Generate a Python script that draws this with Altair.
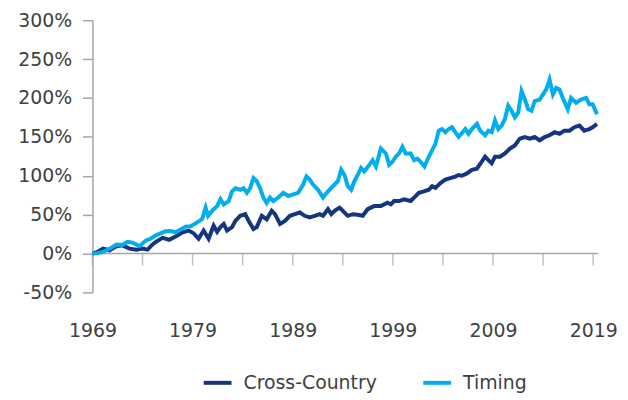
import altair as alt
import pandas as pd

series_names = ["Cross-Country", "Timing"]
series_colors = ["#15357f", "#00aeef"]

timing_years = [1969.0, 1969.5, 1970.05, 1970.7, 1971.4, 1972.0, 1972.5, 1973.0, 1973.7, 1974.35,
                1974.8, 1975.3, 1975.8, 1976.3, 1976.8, 1977.3, 1977.8, 1978.3, 1978.8, 1979.3,
                1979.96, 1980.3, 1980.55, 1980.95, 1981.12, 1981.45, 1981.78, 1982.11, 1982.61, 1982.94,
                1983.27, 1983.76, 1984.09, 1984.42, 1984.75, 1985.08, 1985.41, 1985.74, 1986.07, 1986.4,
                1986.73, 1987.07, 1987.56, 1988.06, 1988.55, 1989.05, 1989.54, 1990.04, 1990.37, 1990.7,
                1991.03, 1991.53, 1992.02, 1992.52, 1993.01, 1993.51, 1993.84, 1994.17, 1994.5, 1994.83,
                1995.16, 1995.49, 1995.82, 1996.15, 1996.65, 1996.98, 1997.31, 1997.8, 1998.3, 1998.63,
                1998.96, 1999.29, 1999.62, 1999.95, 2000.28, 2000.78, 2001.11, 2001.44, 2001.77, 2002.16,
                2002.43, 2002.92, 2003.25, 2003.58, 2003.91, 2004.24, 2004.58, 2004.9, 2005.23, 2005.57,
                2005.9, 2006.23, 2006.56, 2006.89, 2007.39, 2007.72, 2008.21, 2008.54, 2008.87, 2009.2,
                2009.53, 2009.86, 2010.19, 2010.52, 2010.85, 2011.18, 2011.52, 2011.85, 2012.18, 2012.51,
                2012.84, 2013.17, 2013.66, 2013.99, 2014.32, 2014.65, 2014.98, 2015.31, 2015.64, 2015.97,
                2016.47, 2016.8, 2017.3, 2017.79, 2018.29, 2018.62, 2018.95, 2019.38]
timing_values = [0, 0.5, 2, 6, 11.7, 11, 15, 14, 9.5, 16.9,
                 19, 23.2, 26, 28.7, 29, 27.4, 31, 34.6, 35, 38.8,
                 44.3, 59, 48.5, 54.8, 57, 61, 70, 63, 67.5, 80,
                 84, 82, 84, 78, 84, 97, 93, 84, 72, 65,
                 72, 67.5, 72, 78, 74, 76, 78, 88.6, 99, 95,
                 88.6, 82, 72, 80, 86.5, 93, 107.6, 101, 86.5, 82,
                 93, 101, 110, 105.5, 114, 120, 112, 135, 128.7, 114,
                 118, 124.5, 128.7, 137, 128.7, 128.7, 120, 122, 118, 112,
                 120, 133, 141, 158, 160, 156, 160, 162.4, 156, 150,
                 155, 160, 154, 160, 166.6, 158, 152, 158, 156, 171,
                 160, 164.5, 173, 190, 183.5, 175, 181.4, 208.8, 198, 185.6,
                 183.5, 196, 198, 204.6, 211, 223.6, 204.6, 213, 211, 200,
                 185.6, 200, 194, 198, 200, 192, 192, 179]

cross_years = [1969.0, 1969.5, 1970.05, 1970.7, 1971.4, 1972.0, 1972.7, 1973.4, 1974.0, 1974.5,
               1975.0, 1975.3, 1976.0, 1976.66, 1977.3, 1978.0, 1978.6, 1979.1, 1979.6, 1980.1,
               1980.6, 1981.1, 1981.45, 1981.78, 1982.11, 1982.44, 1982.94, 1983.27, 1983.76, 1984.26,
               1984.59, 1985.08, 1985.41, 1985.91, 1986.4, 1986.9, 1987.23, 1987.73, 1988.22, 1988.72,
               1989.21, 1989.71, 1990.2, 1990.7, 1991.2, 1991.69, 1992.02, 1992.52, 1992.85, 1993.18,
               1993.67, 1993.84, 1994.17, 1994.5, 1995.0, 1995.49, 1995.99, 1996.48, 1997.14, 1997.8,
               1998.46, 1998.79, 1999.12, 1999.62, 2000.12, 2000.78, 2001.27, 2001.6, 2002.1, 2002.59,
               2002.92, 2003.25, 2003.75, 2004.24, 2004.74, 2005.23, 2005.57, 2005.9, 2006.4, 2006.89,
               2007.39, 2007.88, 2008.21, 2008.54, 2008.87, 2009.2, 2009.7, 2010.19, 2010.69, 2011.18,
               2011.68, 2012.18, 2012.67, 2013.17, 2013.66, 2014.16, 2014.65, 2015.15, 2015.64, 2016.14,
               2016.63, 2017.13, 2017.63, 2018.12, 2018.62, 2018.95, 2019.38]
cross_values = [0, 2, 6.3, 4.2, 9.2, 10.5, 6.3, 5, 6.3, 5,
                11.7, 14.7, 20.2, 17.7, 21.9, 27.4, 29.5, 26.1, 19, 29.5,
                19, 35.8, 28, 34, 38, 29.5, 34, 42, 48.5, 50.6,
                42, 31.6, 34, 48.5, 44, 55, 50.6, 38, 42, 48.5,
                50.6, 52.7, 48.5, 46.4, 48.5, 50.6, 48.5, 57, 50.6, 55,
                59, 57, 52.7, 48.5, 50.6, 49.8, 48.5, 57, 61, 61,
                65.4, 63.3, 67.5, 67.5, 69.6, 67.5, 73.8, 78, 80, 82,
                86.5, 84.4, 90.7, 95, 97, 99, 101, 100, 103, 107.6,
                109, 118, 124.5, 120, 116, 124.5, 124.5, 128.7, 135, 139,
                147.7, 149.8, 147.7, 149.8, 145.6, 149.8, 152, 156, 154, 158,
                158, 162.4, 164.5, 158, 160, 162.4, 166.6]

label_years = [1969, 1979, 1989, 1999, 2009, 2019]
tick_years = [1969, 1974, 1979, 1984, 1989, 1994, 1999, 2004, 2009, 2014, 2019]
y_ticks = [-50, 0, 50, 100, 150, 200, 250, 300]

df = pd.concat([
    pd.DataFrame({"year": cross_years, "value": cross_values, "series": series_names[0]}),
    pd.DataFrame({"year": timing_years, "value": timing_values, "series": series_names[1]}),
])

FONT = "DejaVu Sans"
FS = 19
GRAY = "#a6a6a6"
TEXT = "#404040"

x_scale = alt.Scale(domain=[1969, 2019.5], nice=False, zero=False)
y_scale = alt.Scale(domain=[-50, 300], nice=False, zero=False)

x_axis = alt.Axis(values=label_years, format="d", domain=False, ticks=False, grid=False,
                  labelPadding=29, labelFont=FONT, labelFontSize=FS, labelColor=TEXT,
                  title=None, labelFlush=False, labelOverlap=False)
y_axis = alt.Axis(values=y_ticks, labelExpr="datum.value + '%'", grid=False,
                  domainColor=GRAY, domainWidth=1.5, tickColor=GRAY, tickWidth=1.5,
                  tickSize=10, labelPadding=11, labelFont=FONT, labelFontSize=FS,
                  labelColor=TEXT, title=None, labelOverlap=False)

lines = alt.Chart(df).mark_line(strokeWidth=4).encode(
    x=alt.X("year:Q", scale=x_scale, axis=x_axis),
    y=alt.Y("value:Q", scale=y_scale, axis=y_axis),
    color=alt.Color("series:N", scale=alt.Scale(domain=series_names, range=series_colors),
                    legend=alt.Legend(orient="none", legendX=110, legendY=349, direction="horizontal",
                                      title=None, symbolType="stroke", symbolSize=784,
                                      symbolStrokeWidth=4, labelFont=FONT, labelFontSize=FS,
                                      labelColor=TEXT, labelOffset=10, columnPadding=38,
                                      labelLimit=300)),
)

zero = alt.Chart(pd.DataFrame({"value": [0]})).mark_rule(color=GRAY, strokeWidth=1.5).encode(
    y=alt.Y("value:Q", scale=y_scale, axis=y_axis)
)

ticks = alt.Chart(pd.DataFrame({"year": tick_years, "value": [0] * len(tick_years)})).mark_tick(
    orient="vertical", size=12, thickness=1.5, yOffset=6, color=GRAY
).encode(
    x=alt.X("year:Q", scale=x_scale, axis=x_axis),
    y=alt.Y("value:Q", scale=y_scale, axis=y_axis),
)

chart = alt.layer(zero, ticks, lines).properties(
    width=509, height=274,
    autosize=alt.AutoSizeParams(type="none"),
    padding={"left": 85, "top": 11, "right": 22, "bottom": 106},
).configure_view(stroke=None).configure_axis(labelOverlap=False)

chart.save("out.html", embed_options={"renderer": "svg", "actions": False})
